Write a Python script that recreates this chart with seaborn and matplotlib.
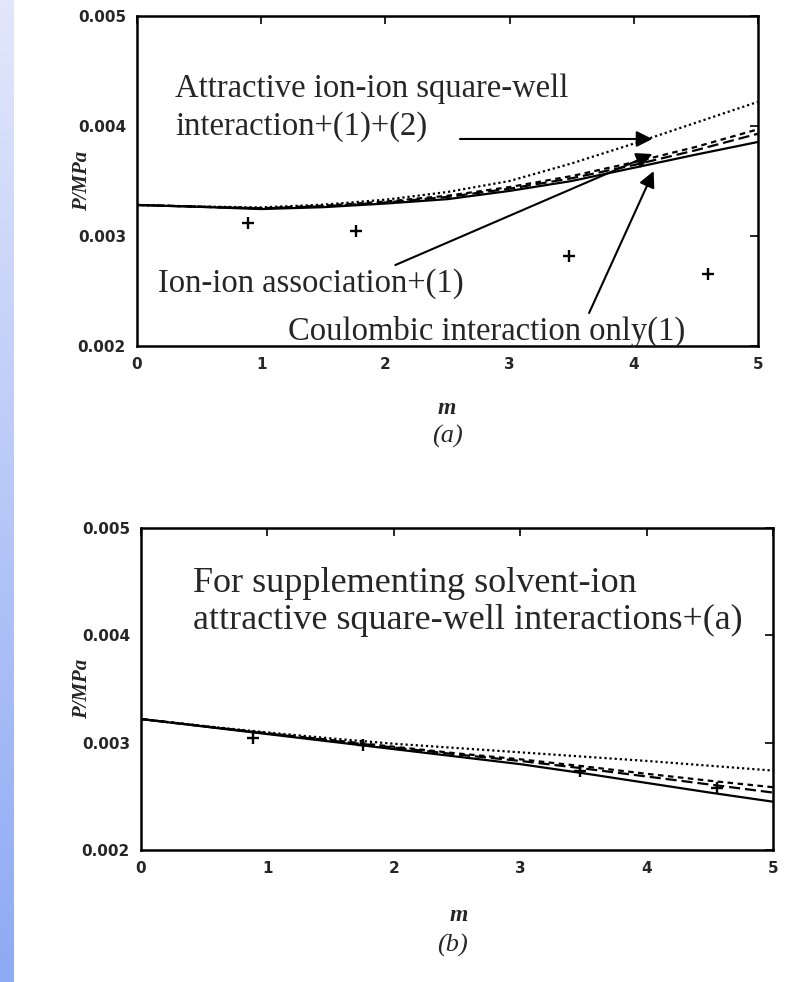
import numpy as np
import pandas as pd
import matplotlib
matplotlib.use("Agg")
import matplotlib.pyplot as plt
import seaborn as sns
from matplotlib.colors import LinearSegmentedColormap

# molality grid for the model curves
m_grid = [0, 0.5, 1, 1.5, 2, 2.5, 3, 3.5, 4, 4.5, 5]

# panel (a): pressure in MPa
coulomb_a = [0.003282, 0.003265, 0.003245, 0.003262, 0.003295, 0.003335,
             0.003410, 0.003500, 0.003620, 0.003740, 0.003855]
assoc_a = [0.003282, 0.003266, 0.003250, 0.003270, 0.003305, 0.003355,
           0.003430, 0.003525, 0.003645, 0.003780, 0.003930]
assoc2_a = [0.003282, 0.003267, 0.003253, 0.003275, 0.003313, 0.003366,
            0.003445, 0.003545, 0.003670, 0.003810, 0.003970]
well_a = [0.003282, 0.003268, 0.003260, 0.003285, 0.003330, 0.003400,
          0.003500, 0.003660, 0.003840, 0.004030, 0.004220]
exp_m_a = [0.89, 1.76, 3.48, 4.60]
exp_p_a = [0.003115, 0.003045, 0.002818, 0.002655]

# panel (b)
coulomb_b = [0.003220, 0.003150, 0.003080, 0.003010, 0.002940, 0.002870,
             0.002800, 0.002715, 0.002625, 0.002535, 0.002450]
assoc_b = [0.003220, 0.003152, 0.003085, 0.003020, 0.002955, 0.002890,
           0.002830, 0.002760, 0.002685, 0.002610, 0.002535]
assoc2_b = [0.003220, 0.003153, 0.003088, 0.003025, 0.002962, 0.002900,
            0.002845, 0.002780, 0.002710, 0.002645, 0.002585]
well_b = [0.003220, 0.003155, 0.003095, 0.003040, 0.002990, 0.002950,
          0.002910, 0.002870, 0.002830, 0.002785, 0.002740]
exp_m_b = [0.89, 1.76, 3.47, 4.56]
exp_p_b = [0.003040, 0.002980, 0.002736, 0.002580]

x_ticks = [0, 1, 2, 3, 4, 5]
y_ticks = [0.002, 0.003, 0.004, 0.005]

sns.set_style("white")
plt.rcParams["font.family"] = ["DejaVu Sans"]

fig = plt.figure(figsize=(7.89, 9.82), dpi=100)

# blue gradient strip on the left edge
strip = fig.add_axes([0, 0, 14 / 789, 1])
cmap = LinearSegmentedColormap.from_list("strip", ["#e2e7fb", "#8eaaf4"])
strip.imshow(np.linspace(0, 1, 256).reshape(-1, 1), aspect="auto", cmap=cmap)
strip.axis("off")

ax_a = fig.add_axes([137 / 789, 1 - 346 / 982, 621 / 789, 330 / 982])
ax_b = fig.add_axes([141 / 789, 1 - 850 / 982, 632 / 789, 322 / 982])

styles = [
    ("solid", "-"),
    ("assoc", (0, (5, 2.2))),
    ("assoc2", (0, (2.5, 2))),
    ("well", (0, (1, 1.3))),
]


def draw_panel(ax, curves, exp_m, exp_p):
    for (name, ls), vals in zip(styles, curves):
        sns.lineplot(x=m_grid, y=vals, ax=ax, color="black", lw=1.6,
                     linestyle=ls, estimator=None)
    sns.scatterplot(x=exp_m, y=exp_p, ax=ax, marker="+", s=70,
                    color="black", linewidth=1.7)
    ax.set_xlim(0, 5)
    ax.set_ylim(0.002, 0.005)
    ax.set_xticks(x_ticks)
    ax.set_xticklabels([str(t) for t in x_ticks])
    ax.set_yticks(y_ticks)
    ax.set_yticklabels([f"{t:.3f}" for t in y_ticks])
    ax.tick_params(direction="in", length=6, width=1.4, top=True, right=True,
                   labelsize=11, pad=8)
    for lab in ax.get_xticklabels() + ax.get_yticklabels():
        lab.set_fontweight("bold")
    for sp in ax.spines.values():
        sp.set_linewidth(1.8)
        sp.set_color("black")
    ax.set_xlabel("m", fontsize=17, fontweight="bold", fontstyle="italic",
                  family="Liberation Serif")
    ax.set_ylabel("P/MPa", fontsize=15, fontweight="bold", fontstyle="italic",
                  family="Liberation Serif")


draw_panel(ax_a, [coulomb_a, assoc_a, assoc2_a, well_a], exp_m_a, exp_p_a)
draw_panel(ax_b, [coulomb_b, assoc_b, assoc2_b, well_b], exp_m_b, exp_p_b)

ax_a.xaxis.set_label_coords(0.499, -0.158)
ax_a.yaxis.set_label_coords(-0.0725, 0.5)
ax_b.xaxis.set_label_coords(0.503, -0.171)
ax_b.yaxis.set_label_coords(-0.0775, 0.5)

serif = "Liberation Serif"
txt_a = dict(fontsize=23.5, family=serif, ha="left", va="center")
ax_a.text(0.306, 0.004340, "Attractive ion-ion square-well", **txt_a)
ax_a.text(0.306, 0.003995, "interaction+(1)+(2)", **txt_a)
ax_a.text(0.169, 0.002570, "Ion-ion association+(1)", **txt_a)
ax_a.text(1.218, 0.002135, "Coulombic interaction only(1)", **txt_a)

arrow = dict(arrowstyle="-|>", mutation_scale=24, lw=1.5, color="black",
             shrinkA=0, shrinkB=0)
ax_a.annotate("", xy=(4.15, 0.003882), xytext=(2.60, 0.003882), arrowprops=arrow)
ax_a.annotate("", xy=(4.15, 0.003745), xytext=(2.08, 0.002736), arrowprops=arrow)
ax_a.annotate("", xy=(4.16, 0.003590), xytext=(3.64, 0.002300), arrowprops=arrow)

txt_b = dict(fontsize=26, family=serif, ha="left", va="center")
ax_b.text(0.41, 0.004480, "For supplementing solvent-ion", **txt_b)
ax_b.text(0.41, 0.004135, "attractive square-well interactions+(a)", **txt_b)

fig.text(447 / 789, 1 - 436 / 982, "(a)", fontsize=19, fontstyle="italic",
         family=serif, ha="center", va="center")
fig.text(452 / 789, 1 - 945 / 982, "(b)", fontsize=19, fontstyle="italic",
         family=serif, ha="center", va="center")

fig.savefig("out.png", dpi=100)
